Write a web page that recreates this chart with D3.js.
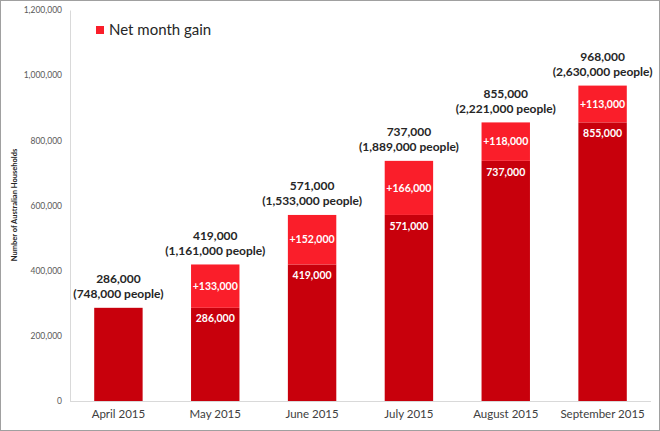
<!DOCTYPE html>
<html><head><meta charset="utf-8">
<script src="https://cdn.jsdelivr.net/npm/d3@7"></script>
<style>
html,body{margin:0;padding:0;background:#fff;}
svg{display:block;}
text{font-family:Lato,"Open Sans",sans-serif;}
</style></head>
<body>
<script>
const categories = ["April 2015","May 2015","June 2015","July 2015","August 2015","September 2015"];
const baseValues = [286000, 286000, 419000, 571000, 737000, 855000];
const gainValues = [0, 133000, 152000, 166000, 118000, 113000];
const totalValues = [286000, 419000, 571000, 737000, 855000, 968000];
const peopleValues = [748000, 1161000, 1533000, 1889000, 2221000, 2630000];
const yTicks = [0, 200000, 400000, 600000, 800000, 1000000, 1200000];
const legendLabel = "Net month gain";
const yTitle = "Number of Australian Households";

(function(){
const W = 660, H = 431;
const svg = d3.select("body").append("svg").attr("width", W).attr("height", H);
svg.append("rect").attr("x",0.5).attr("y",0.5).attr("width",W-1).attr("height",H-1)
  .attr("fill","#fff").attr("stroke","#a0a0a0");

const x = d3.scaleBand().domain(categories).range([70, 651]).paddingInner(0.5).paddingOuter(0.25);
const y = d3.scaleLinear().domain([0, 1200000]).range([401, 10]);
const fmt = d3.format(",");

const dark = "#c8000c", light = "#fa1e2a";

const yAxis = d3.axisLeft(y).tickValues(yTicks).tickFormat(fmt).tickSize(0).tickPadding(8);
const gy = svg.append("g").attr("transform","translate(70,0)").call(yAxis);
gy.select(".domain").attr("stroke","#d9d9d9");
gy.selectAll("text").attr("fill","#595959").attr("font-size","8.5px").attr("font-family","Lato,sans-serif");

const xAxis = d3.axisBottom(x).tickSize(0).tickPadding(9);
const gx = svg.append("g").attr("transform","translate(0,401)").call(xAxis);
gx.select(".domain").attr("stroke","#d9d9d9").attr("d","M70,0.5H651");
gx.selectAll("text").attr("fill","#404040").attr("font-size","11.5px").attr("font-family","Lato,sans-serif");

svg.append("text").attr("transform","translate(17,205) rotate(-90)").attr("text-anchor","middle")
  .attr("font-size","7.5px").attr("font-weight","bold").attr("fill","#262626").text(yTitle);

const data = categories.map((c,i)=>({c, base: baseValues[i], gain: gainValues[i], total: totalValues[i], people: peopleValues[i]}));
svg.selectAll("rect.base").data(data).join("rect").attr("class","base")
  .attr("x", d=>x(d.c)).attr("width", x.bandwidth())
  .attr("y", d=>y(d.base)).attr("height", d=>y(0)-y(d.base)).attr("fill", dark);
svg.selectAll("rect.gain").data(data.filter(d=>d.gain>0)).join("rect").attr("class","gain")
  .attr("x", d=>x(d.c)).attr("width", x.bandwidth())
  .attr("y", d=>y(d.base+d.gain)).attr("height", d=>y(d.base)-y(d.base+d.gain)).attr("fill", light);

const inner = data.filter(d=>d.gain>0);
svg.selectAll("text.gl").data(inner).join("text").attr("class","gl")
  .attr("x", d=>x(d.c)+x.bandwidth()/2).attr("y", d=>(y(d.base)+y(d.base+d.gain))/2)
  .attr("dy","0.35em").attr("text-anchor","middle").attr("fill","#fff")
  .attr("font-size","10.5px").attr("font-weight","bold").text(d=>"+"+fmt(d.gain));
svg.selectAll("text.bl").data(inner).join("text").attr("class","bl")
  .attr("x", d=>x(d.c)+x.bandwidth()/2).attr("y", d=>y(d.base)+11)
  .attr("dy","0.35em").attr("text-anchor","middle").attr("fill","#fff")
  .attr("font-size","10.5px").attr("font-weight","bold").text(d=>fmt(d.base));

const tops = svg.selectAll("g.toplbl").data(data).join("g").attr("class","toplbl");
tops.append("text").attr("x", d=>x(d.c)+x.bandwidth()/2).attr("y", d=>y(d.total)-29)
  .attr("dy","0.35em").attr("text-anchor","middle").attr("fill","#262626")
  .attr("font-size","12px").attr("font-weight","bold").text(d=>fmt(d.total));
tops.append("text").attr("x", d=>x(d.c)+x.bandwidth()/2).attr("y", d=>y(d.total)-14)
  .attr("dy","0.35em").attr("text-anchor","middle").attr("fill","#262626")
  .attr("font-size","12px").attr("font-weight","bold").text(d=>"("+fmt(d.people)+" people)");

svg.append("rect").attr("x",96).attr("y",26).attr("width",8).attr("height",8).attr("fill",light);
svg.append("text").attr("x",109).attr("y",30).attr("dy","0.35em").attr("font-size","15px")
  .attr("fill","#262626").text(legendLabel);
})();
</script>
</body></html>
